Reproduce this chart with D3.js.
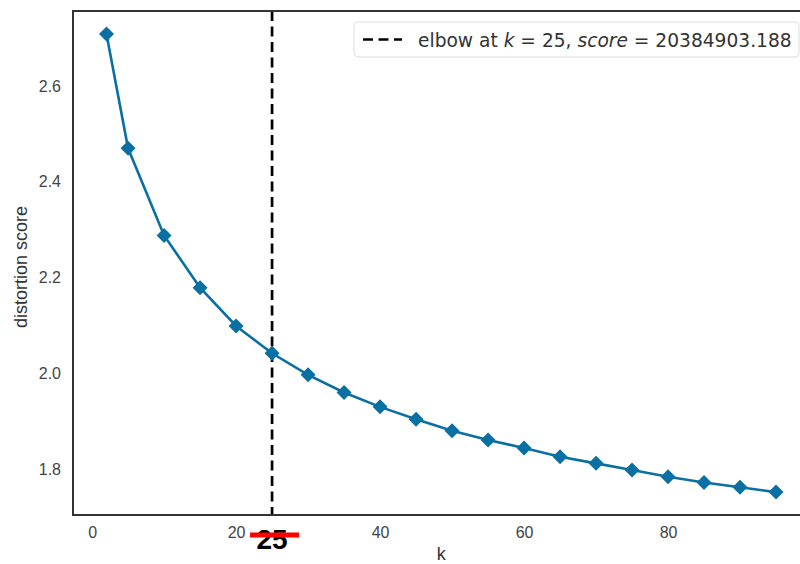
<!DOCTYPE html>
<html>
<head>
<meta charset="utf-8">
<script src="https://cdn.jsdelivr.net/npm/d3@7"></script>
<style>
  body { margin: 0; background: #fff; }
  svg { display: block; }
  .tick text { font-family: 'Liberation Sans', Arial, sans-serif; font-size: 16px; fill: #444; }
</style>
</head>
<body>
<svg width="800" height="564"></svg>
<script>
// k values tried and the distortion score
const kValues = [2, 5, 10, 15, 20, 25, 30, 35, 40, 45, 50, 55, 60, 65, 70, 75, 80, 85, 90, 95];
const distortion = [2.709, 2.470, 2.288, 2.179, 2.099, 2.042, 1.997, 1.960, 1.930, 1.904,
  1.880, 1.861, 1.844, 1.826, 1.812, 1.798, 1.784, 1.772, 1.762, 1.752];
const xTicks = [0, 20, 40, 60, 80];
const yTicks = [1.8, 2.0, 2.2, 2.4, 2.6];
const elbowK = 25;
const elbowScore = '20384903.188';

const data = kValues.map((k, i) => ({k, v: distortion[i]}));

const svg = d3.select('svg');
const margin = {top: 11, left: 73};
const width = 736.5;
const height = 504;
const g = svg.append('g')
  .attr('transform', `translate(${margin.left},${margin.top})`);

// matplotlib-style 5% margins
const kPad = (d3.max(kValues) - d3.min(kValues)) * 0.05;
const vPad = (d3.max(distortion) - d3.min(distortion)) * 0.05;

const x = d3.scaleLinear()
  .domain([d3.min(kValues) - kPad, d3.max(kValues) + kPad])
  .range([0, width]);

const y = d3.scaleLinear()
  .domain([d3.min(distortion) - vPad, d3.max(distortion) + vPad])
  .range([height, 0]);

const color = '#0a6fa3';

// axes (no tick marks, labels only)
g.append('g')
  .attr('class', 'axis axis--x')
  .attr('transform', `translate(0,${height})`)
  .call(d3.axisBottom(x).tickValues(xTicks).tickSize(0).tickPadding(12).tickFormat(d3.format('d')))
  .call(a => a.select('.domain').remove());

g.append('g')
  .attr('class', 'axis axis--y')
  .call(d3.axisLeft(y).tickValues(yTicks).tickSize(0).tickPadding(12).tickFormat(d3.format('.1f')))
  .call(a => a.select('.domain').remove());

// elbow line
g.append('line')
  .attr('x1', x(elbowK))
  .attr('x2', x(elbowK))
  .attr('y1', 0)
  .attr('y2', height)
  .attr('stroke', '#000')
  .attr('stroke-width', 2.7)
  .attr('stroke-dasharray', '10,5.5');

// distortion curve
g.append('path')
  .datum(data)
  .attr('fill', 'none')
  .attr('stroke', color)
  .attr('stroke-width', 2.6)
  .attr('d', d3.line().x(d => x(d.k)).y(d => y(d.v)));

g.selectAll('.marker')
  .data(data)
  .enter().append('path')
    .attr('class', 'marker')
    .attr('transform', d => `translate(${x(d.k)},${y(d.v)})`)
    .attr('d', 'M0,-7.5L7.5,0L0,7.5L-7.5,0Z')
    .attr('fill', color);

// frame
g.append('rect')
  .attr('width', width)
  .attr('height', height)
  .attr('fill', 'none')
  .attr('stroke', '#333')
  .attr('stroke-width', 2);

// axis labels
svg.append('text')
  .attr('x', margin.left + width / 2)
  .attr('y', 560)
  .attr('text-anchor', 'middle')
  .style('font-family', "'Liberation Sans', Arial, sans-serif")
  .style('font-size', '18px')
  .style('fill', '#333')
  .text('k');

svg.append('text')
  .attr('transform', 'translate(27,267) rotate(-90)')
  .attr('text-anchor', 'middle')
  .style('font-family', "'Liberation Sans', Arial, sans-serif")
  .style('font-size', '18px')
  .style('fill', '#333')
  .text('distortion score');

// hand-added annotation under the axis
svg.append('text')
  .attr('x', margin.left + x(elbowK))
  .attr('y', 549)
  .attr('text-anchor', 'middle')
  .style('font-family', "'Liberation Sans', Arial, sans-serif")
  .style('font-weight', 'bold')
  .style('font-size', '28px')
  .style('fill', '#000')
  .text(elbowK);

svg.append('line')
  .attr('x1', margin.left + x(elbowK) - 22)
  .attr('x2', margin.left + x(elbowK) + 27)
  .attr('y1', 535)
  .attr('y2', 535)
  .attr('stroke', '#f00')
  .attr('stroke-width', 5);

// legend
const legend = svg.append('g')
  .attr('transform', 'translate(354,22)');

legend.append('rect')
  .attr('width', 445)
  .attr('height', 35)
  .attr('rx', 4)
  .attr('fill', '#fff')
  .attr('stroke', '#ddd');

legend.append('line')
  .attr('x1', 9)
  .attr('x2', 48)
  .attr('y1', 17.5)
  .attr('y2', 17.5)
  .attr('stroke', '#000')
  .attr('stroke-width', 2.7)
  .attr('stroke-dasharray', '10,5.5');

const lt = legend.append('text')
  .attr('x', 64)
  .attr('y', 24.5)
  .style('font-family', "'DejaVu Sans', sans-serif")
  .style('font-size', '19px')
  .style('fill', '#333');

lt.append('tspan').text('elbow at ');
lt.append('tspan').style('font-style', 'italic').text('k');
lt.append('tspan').text(` = ${elbowK}, `);
lt.append('tspan').style('font-style', 'italic').text('score');
lt.append('tspan').text(` = ${elbowScore}`);

// fit the legend label to the box
const textW = lt.node().getComputedTextLength();
lt.style('font-size', `${19 * 374 / textW}px`);
</script>
</body>
</html>
